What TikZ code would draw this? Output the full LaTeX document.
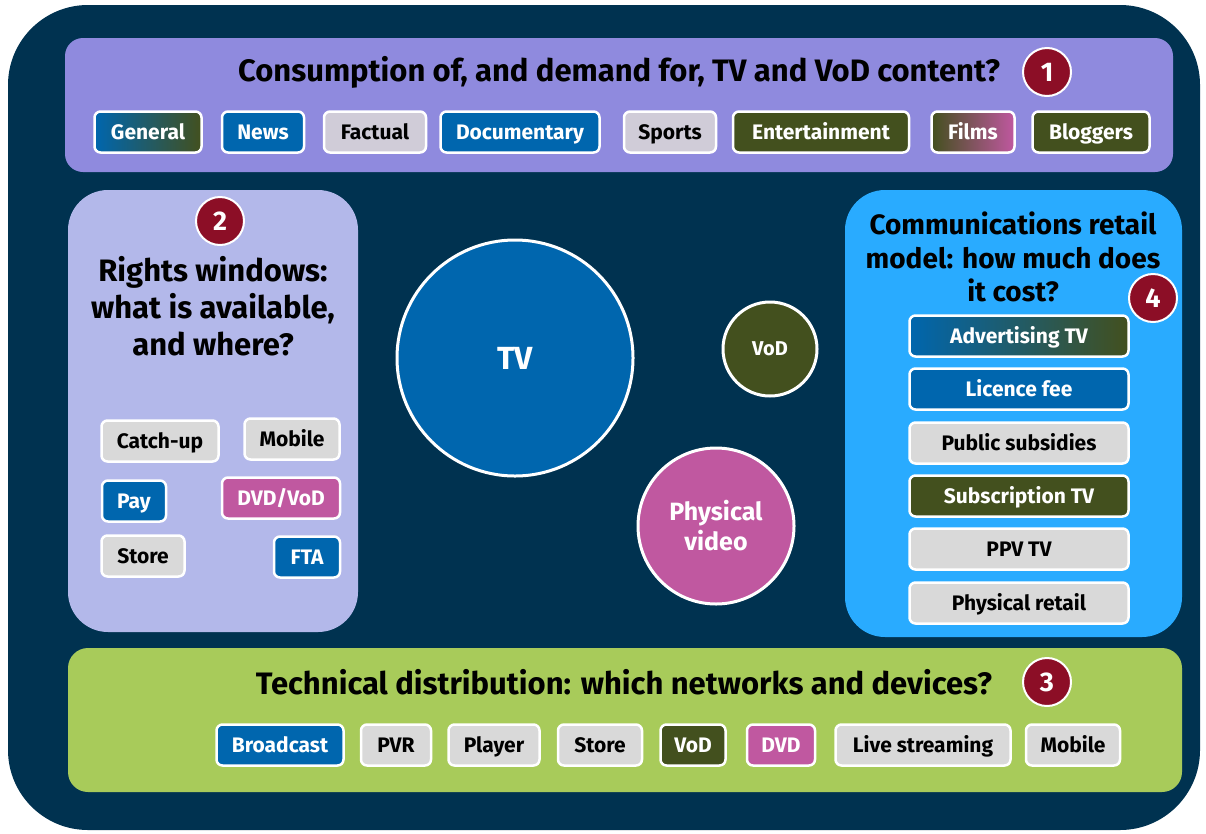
\documentclass[tikz,border=0pt]{standalone}
\usepackage{fontspec}
\setmainfont{Fira Sans}
\usepackage{tikz}

\definecolor{navy}{RGB}{0,50,80}
\definecolor{lilac}{RGB}{143,138,222}
\definecolor{lavender}{RGB}{179,184,234}
\definecolor{skyblue}{RGB}{41,171,255}
\definecolor{lime}{RGB}{168,203,90}
\definecolor{tvblue}{RGB}{0,102,174}
\definecolor{olive}{RGB}{67,80,30}
\definecolor{pink}{RGB}{192,88,160}
\definecolor{lightgrey}{RGB}{217,217,217}
\definecolor{greylilac}{RGB}{208,204,216}
\definecolor{badgered}{RGB}{140,14,38}

\tikzset{
	tag/.style={draw=white,line width=2.5pt,rounded corners=6pt,inner sep=0pt,outer sep=0pt,minimum height=41pt,text height=14.5pt,text depth=0pt,font=\fontsize{21}{23}\selectfont\bfseries},
	bluetag/.style={tag,fill=tvblue,text=white},
	olivetag/.style={tag,fill=olive,text=white},
	pinktag/.style={tag,fill=pink,text=white},
	greytag/.style={tag,fill=lightgrey,text=black},
	badge/.style={draw=white,circle,line width=2pt,fill=badgered,text=white,inner sep=0,minimum size=48pt,font=\fontsize{27}{29}\selectfont\bfseries},
	bubble/.style={draw=white,circle,line width=3pt,text=white,inner sep=0,align=center},
	heading/.style={text=black,align=center,font=\fontsize{31}{37}\selectfont\bfseries}
}

\begin{document}
\begin{tikzpicture}[x=1pt,y=-1pt]
	\useasboundingbox (0,0) rectangle (1206,833);
	\fill[navy,rounded corners=80pt] (8,5) rectangle (1200,830);

	% panel 1
	\fill[lilac,rounded corners=18pt] (65,38) rectangle (1173,172);
	\node[heading] (t1) at (619,72) {Consumption of, and demand for, TV and VoD content?};
	\node[badge] (b1) at (1047,72) {1};
	\node[tag,left color=tvblue,right color=olive,text=white,minimum width=107pt] (general) at (148,132) {General};
	\node[bluetag,minimum width=82pt] (news) at (263,132) {News};
	\node[tag,fill=greylilac,minimum width=102pt] (factual) at (375,132) {Factual};
	\node[bluetag,minimum width=159pt] (documentary) at (520,132) {Documentary};
	\node[tag,fill=greylilac,minimum width=92pt] (sports) at (670,132) {Sports};
	\node[olivetag,minimum width=176pt] (entertainment) at (821,132) {Entertainment};
	\node[tag,left color=olive,right color=pink,text=white,minimum width=83pt] (films) at (973,132) {Films};
	\node[olivetag,minimum width=117pt] (bloggers) at (1091,132) {Bloggers};

	% panel 2
	\fill[lavender,rounded corners=40pt] (68,190) rectangle (358,632);
	\node[badge] (b2) at (220,221) {2};
	\node[heading] (t2) at (213,306) {Rights windows:\\what is available,\\and where?};
	\node[greytag,minimum width=117pt] (catchup) at (160,441) {Catch-up};
	\node[greytag,minimum width=95pt] (mobile2) at (292,439) {Mobile};
	\node[bluetag,minimum width=64pt] (pay) at (134,501) {Pay};
	\node[pinktag,minimum width=118pt] (dvdvod) at (281,498) {DVD/VoD};
	\node[greytag,minimum width=83pt] (store2) at (143,556) {Store};
	\node[bluetag,minimum width=66pt] (fta) at (307,557) {FTA};

	% panel 4
	\fill[skyblue,rounded corners=40pt] (845,190) rectangle (1182,637);
	\node[heading,font=\fontsize{28}{33.5}\selectfont\bfseries] (t4) at (1013,257) {Communications retail\\model: how much does\\it cost?};
	\node[badge] (b4) at (1153,298) {4};
	\node[tag,left color=tvblue,right color=olive,text=white,minimum width=219pt] (advertising) at (1019,336) {Advertising TV};
	\node[bluetag,minimum width=219pt] (licence) at (1019,389) {Licence fee};
	\node[greytag,minimum width=219pt] (subsidies) at (1019,443) {Public subsidies};
	\node[olivetag,minimum width=219pt] (subscription) at (1019,496) {Subscription TV};
	\node[greytag,minimum width=219pt] (ppv) at (1019,549) {PPV TV};
	\node[greytag,minimum width=219pt] (retail) at (1019,603) {Physical retail};

	% bubbles
	\node[bubble,fill=tvblue,minimum size=236pt,font=\fontsize{32}{34}\selectfont\bfseries] (tv) at (515,358) {TV};
	\node[bubble,fill=olive,minimum size=94pt,font=\fontsize{20}{22}\selectfont\bfseries] (vod) at (770,349) {VoD};
	\node[bubble,fill=pink,minimum size=156pt,font=\fontsize{25}{30}\selectfont\bfseries] (video) at (716,526) {Physical\\video};

	% panel 3
	\fill[lime,rounded corners=20pt] (68,648) rectangle (1182,792);
	\node[heading] (t3) at (624,682) {Technical distribution: which networks and devices?};
	\node[badge] (b3) at (1047,682) {3};
	\node[bluetag,minimum width=127pt] (broadcast) at (280,745) {Broadcast};
	\node[greytag,minimum width=70pt] (pvr) at (396,745) {PVR};
	\node[greytag,minimum width=91pt] (player) at (494,745) {Player};
	\node[greytag,minimum width=84pt] (store3) at (600,745) {Store};
	\node[olivetag,minimum width=65pt] (vod3) at (693,745) {VoD};
	\node[pinktag,minimum width=68pt] (dvd) at (781,745) {DVD};
	\node[greytag,minimum width=175pt] (live) at (923,745) {Live streaming};
	\node[greytag,minimum width=94pt] (mobile3) at (1073,745) {Mobile};
\end{tikzpicture}
\end{document}
